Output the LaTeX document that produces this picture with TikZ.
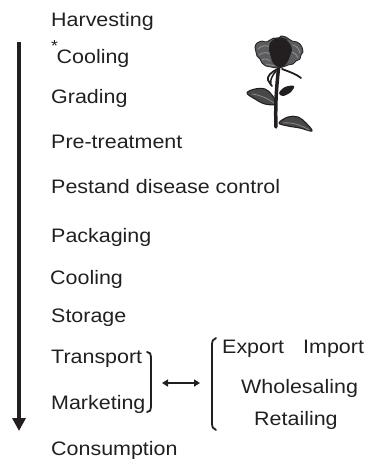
\documentclass[tikz,border=0pt]{standalone}
\usepackage{fontspec}
\setmainfont[FakeStretch=1.1]{Liberation Sans}
\usetikzlibrary{arrows.meta}

\definecolor{ink}{RGB}{35,31,32}
\definecolor{petal}{RGB}{92,92,94}
\definecolor{petalline}{RGB}{138,138,140}
\definecolor{leafgray}{RGB}{72,72,74}

\begin{document}
\begin{tikzpicture}[x=1pt,y=-1pt,
  steplabel/.style={anchor=base west, inner sep=0pt, text=ink,
    font=\fontsize{19.5}{19.5}\selectfont},
  flowline/.style={draw=ink, line width=3.5pt,
    -{Triangle[width=13pt,length=13pt]}},
  bracketline/.style={draw=ink, line width=1.8pt, line cap=round},
  twoway/.style={draw=ink, line width=1.8pt,
    {Triangle[width=7pt,length=6pt]}-{Triangle[width=7pt,length=6pt]}},
  rosestroke/.style={draw=ink, line width=1.1pt, line join=round}]

\useasboundingbox (0,0) rectangle (365,459);

% ---- steps of the chain ----
\node[steplabel] (harv)  at (51,26.5)  {Harvesting};
\node[steplabel] (cool1) at (51,63.5)  {\makebox[5.5pt][l]{\raisebox{12pt}{\fontsize{16}{16}\selectfont*}}Cooling};
\node[steplabel] (grad)  at (51,103.5) {Grading};
\node[steplabel] (pretr) at (51,148.5) {Pre-treatment};
\node[steplabel] (pest)  at (51,193.5) {Pestand disease control};
\node[steplabel] (pack)  at (51,242)   {Packaging};
\node[steplabel] (cool2) at (50,284)   {Cooling};
\node[steplabel] (stor)  at (51,322)   {Storage};
\node[steplabel] (trans) at (51,363)   {Transport};
\node[steplabel] (mark)  at (51,409)   {Marketing};
\node[steplabel] (cons)  at (51,455)   {Consumption};

% ---- market channels ----
\node[steplabel] (exp)   at (222,353.5) {Export};
\node[steplabel] (imp)   at (303,353.5) {Import};
\node[steplabel] (whole) at (241,393.5) {Wholesaling};
\node[steplabel] (ret)   at (254,425)   {Retailing};

% ---- main flow arrow ----
\coordinate (flowtop) at (19,42);
\coordinate (flowend) at (19,431);
\draw[flowline] (flowtop) -- (flowend);

% ---- brackets and the link between them ----
\draw[bracketline] (147,352) .. controls (150,352) and (151,354) .. (151,357)
  -- (151,407) .. controls (151,410) and (150,412) .. (147,412);
\draw[bracketline] (216,338) .. controls (213,339) and (212,341) .. (212,345)
  -- (212,423) .. controls (212,427) and (213,429) .. (216,430);
\coordinate (brk) at (151,383);
\coordinate (brc) at (212,383);
\draw[twoway, shorten <=11pt, shorten >=12pt] (brk) -- (brc);

% ---- rose ----
% leaves
\fill[leafgray] plot[smooth cycle, tension=0.6] coordinates
  {(247,93) (255,89) (265,89) (272,95) (276,104) (265,104) (255,99)};
\draw[rosestroke] plot[smooth cycle, tension=0.6] coordinates
  {(247,93) (255,89) (265,89) (272,95) (276,104) (265,104) (255,99)};
\draw[petalline, line width=0.8pt] (252,94) .. controls (260,95) and (267,98) .. (274,103);
\fill[leafgray] plot[smooth cycle, tension=0.6] coordinates
  {(279,123) (288,117) (298,117) (306,123) (312,131) (300,128) (288,126)};
\draw[rosestroke] plot[smooth cycle, tension=0.6] coordinates
  {(279,123) (288,117) (298,117) (306,123) (312,131) (300,128) (288,126)};
\draw[petalline, line width=0.8pt] (283,123) .. controls (292,122) and (301,125) .. (309,130);
% small leaf beside the stem
\fill[ink] plot[smooth cycle, tension=0.6] coordinates
  {(279,93) (285,87) (294,86) (291,92) (283,96)};
% stem
\draw[ink, line width=3.5pt, line cap=round]
  (279,64) .. controls (277,82) and (275,102) .. (276,127);
% sepals
\draw[ink, line width=1.8pt, line cap=round]
  (278,69) .. controls (271,72) and (267,76) .. (268,80)
  .. controls (269,83) and (271,84) .. (272,86);
\draw[ink, line width=1.8pt, line cap=round]
  (282,69) .. controls (290,72) and (296,74) .. (301,78);
\draw[ink, line width=1.5pt, line cap=round]
  (276,71) .. controls (272,76) and (270,80) .. (271,83);
% flower head
\fill[petal] plot[smooth cycle, tension=0.5] coordinates
  {(255,47) (257,43) (262,41) (266,42) (270,40) (274,38) (278,39) (281,36)
   (286,37) (289,39) (292,41) (297,42) (300,44) (302,47) (303,52) (301,55)
   (300,59) (296,61) (293,64) (288,65) (283,67) (277,68) (271,67) (266,66)
   (262,63) (260,59) (257,56) (256,52)};
\draw[ink, line width=0.8pt] plot[smooth cycle, tension=0.5] coordinates
  {(255,47) (257,43) (262,41) (266,42) (270,40) (274,38) (278,39) (281,36)
   (286,37) (289,39) (292,41) (297,42) (300,44) (302,47) (303,52) (301,55)
   (300,59) (296,61) (293,64) (288,65) (283,67) (277,68) (271,67) (266,66)
   (262,63) (260,59) (257,56) (256,52)};
\draw[petalline, line width=1pt, line cap=round]
  (258,49) .. controls (262,45) and (266,45) .. (270,47);
\draw[petalline, line width=1pt, line cap=round]
  (259,55) .. controls (263,52) and (267,52) .. (270,54);
\draw[petalline, line width=1pt, line cap=round]
  (262,60) .. controls (265,58) and (268,59) .. (270,61);
\draw[petalline, line width=1pt, line cap=round]
  (293,45) .. controls (297,46) and (299,49) .. (300,53);
\draw[petalline, line width=1pt, line cap=round]
  (292,52) .. controls (295,53) and (297,55) .. (298,58);
\draw[petalline, line width=1pt, line cap=round]
  (266,64) .. controls (272,66) and (278,66) .. (284,64);
% dark heart of the bloom
\fill[ink] plot[smooth cycle, tension=0.55] coordinates
  {(270,43) (275,39) (281,39) (286,40) (290,44) (292,50) (290,56) (288,61)
   (284,66) (278,67) (273,63) (271,57) (269,50)};
\draw[ink, line width=1.2pt, line cap=round]
  (274,39) .. controls (278,37) and (283,38) .. (287,40);
\end{tikzpicture}
\end{document}
